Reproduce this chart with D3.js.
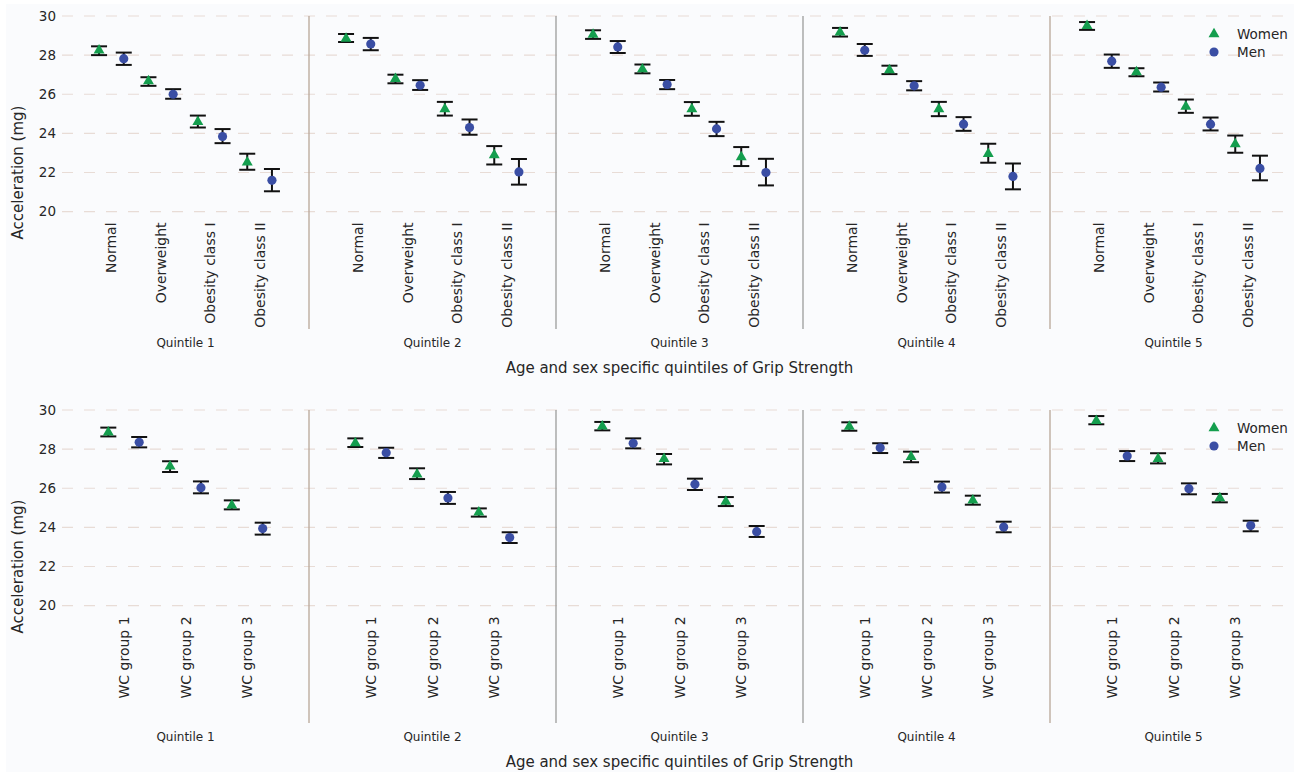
<!DOCTYPE html>
<html>
<head>
<meta charset="utf-8">
<script src="https://cdn.jsdelivr.net/npm/d3@7"></script>
<style>
  body { margin: 0; background: #ffffff; }
  svg { display: block; font-family: "DejaVu Sans", sans-serif; }
</style>
</head>
<body>
<svg id="chart"></svg>
<script>
const quintiles = ["Quintile 1", "Quintile 2", "Quintile 3", "Quintile 4", "Quintile 5"]
const bmiGroups = ["Normal", "Overweight", "Obesity class I", "Obesity class II"]
const wcGroups = ["WC group 1", "WC group 2", "WC group 3"]
const yTicks = [20, 22, 24, 26, 28, 30]
const sexes = ["Women", "Men"]

// [mean, lower, upper] per group, one row per quintile
const bmiWomen = [
  [[28.25, 28.0, 28.45], [26.67, 26.43, 26.87], [24.59, 24.3, 24.91], [22.52, 22.14, 22.96]],
  [[28.84, 28.67, 29.08], [26.79, 26.56, 27.0], [25.24, 24.91, 25.61], [22.89, 22.41, 23.35]],
  [[29.05, 28.83, 29.27], [27.28, 27.07, 27.52], [25.24, 24.9, 25.6], [22.79, 22.33, 23.3]],
  [[29.17, 28.95, 29.39], [27.24, 27.03, 27.46], [25.24, 24.88, 25.61], [22.96, 22.5, 23.47]],
  [[29.5, 29.29, 29.69], [27.13, 26.92, 27.33], [25.37, 25.05, 25.73], [23.45, 23.01, 23.89]]
]
const bmiMen = [
  [[27.82, 27.5, 28.13], [26.0, 25.77, 26.26], [23.84, 23.5, 24.22], [21.6, 21.04, 22.18]],
  [[28.57, 28.25, 28.88], [26.46, 26.22, 26.72], [24.3, 23.93, 24.71], [22.03, 21.38, 22.69]],
  [[28.42, 28.11, 28.72], [26.5, 26.26, 26.73], [24.23, 23.86, 24.59], [22.0, 21.34, 22.7]],
  [[28.25, 27.96, 28.57], [26.43, 26.2, 26.67], [24.47, 24.13, 24.83], [21.8, 21.14, 22.46]],
  [[27.69, 27.35, 28.03], [26.36, 26.14, 26.6], [24.47, 24.15, 24.81], [22.21, 21.6, 22.86]]
]
const wcWomen = [
  [[28.86, 28.65, 29.1], [27.12, 26.83, 27.38], [25.13, 24.92, 25.38]],
  [[28.31, 28.11, 28.55], [26.71, 26.47, 27.02], [24.77, 24.55, 24.97]],
  [[29.17, 28.96, 29.39], [27.5, 27.22, 27.75], [25.32, 25.09, 25.55]],
  [[29.15, 28.94, 29.37], [27.61, 27.33, 27.87], [25.38, 25.16, 25.62]],
  [[29.45, 29.27, 29.69], [27.5, 27.27, 27.79], [25.5, 25.28, 25.71]]
]
const wcMen = [
  [[28.35, 28.09, 28.62], [26.03, 25.74, 26.35], [23.94, 23.63, 24.24]],
  [[27.82, 27.55, 28.07], [25.5, 25.2, 25.81], [23.48, 23.2, 23.75]],
  [[28.3, 28.04, 28.55], [26.2, 25.91, 26.49], [23.78, 23.51, 24.07]],
  [[28.07, 27.8, 28.3], [26.06, 25.78, 26.34], [24.02, 23.75, 24.29]],
  [[27.65, 27.39, 27.9], [25.98, 25.69, 26.25], [24.09, 23.8, 24.34]]
]

const w = 1294
const h = 772
const left = 62
const right = 1297
const green = "#149e4e"
const blue = "#3a4ea4"
const textColor = "#262626"

const svg = d3.select("#chart")
  .attr("width", w)
  .attr("height", h)

svg.append("rect")
  .attr("x", 6).attr("y", 4)
  .attr("width", w - 6).attr("height", h - 4)
  .attr("fill", "#fafbfd")

const panelScale = d3.scaleBand()
  .domain(quintiles)
  .range([left, right])

function drawRow(top, bottom, groups, women, men) {
  const g = svg.append("g")
  const y = d3.scaleLinear().domain([14, 30]).range([bottom, top])

  // dashed grid
  g.selectAll(".grid")
    .data(yTicks)
    .enter()
    .append("line")
    .attr("x1", left)
    .attr("x2", w)
    .attr("y1", d => y(d))
    .attr("y2", d => y(d))
    .attr("stroke", "#e8dcd6")
    .attr("stroke-width", 1.2)
    .attr("stroke-dasharray", "11,11")

  // panel separators
  g.selectAll(".sep")
    .data(quintiles.slice(1))
    .enter()
    .append("line")
    .attr("x1", d => panelScale(d))
    .attr("x2", d => panelScale(d))
    .attr("y1", top)
    .attr("y2", bottom)
    .attr("stroke", (d, i) => (i === 0 || i === 3) ? "#b8a698" : "#9c9c9c")
    .attr("stroke-width", 1.3)

  const yAxis = d3.axisLeft(y).tickValues(yTicks).tickSize(0).tickPadding(6)
  const ya = g.append("g")
    .attr("transform", `translate(${left}, 0)`)
    .call(yAxis)
  ya.select(".domain").remove()
  ya.selectAll("text")
    .attr("font-size", 13.5)
    .attr("fill", textColor)
    .attr("font-family", "DejaVu Sans")

  g.append("text")
    .attr("transform", `translate(23, ${(top + bottom) / 2}) rotate(-90)`)
    .attr("text-anchor", "middle")
    .attr("font-size", 15)
    .attr("fill", textColor)
    .text("Acceleration (mg)")

  quintiles.forEach((q, qi) => {
    const x = d3.scalePoint()
      .domain(groups)
      .range([panelScale(q), panelScale(q) + panelScale.bandwidth()])
      .padding(1)
    const off = x.step() / 4

    const pts = []
    groups.forEach((grp, gi) => {
      pts.push({ sex: "Women", cx: x(grp) - off, v: women[qi][gi] })
      pts.push({ sex: "Men", cx: x(grp) + off, v: men[qi][gi] })
    })

    const p = g.append("g")

    // error bars
    const eb = p.selectAll(".eb")
      .data(pts)
      .enter()
      .append("g")
    eb.append("line")
      .attr("x1", d => d.cx).attr("x2", d => d.cx)
      .attr("y1", d => y(d.v[1])).attr("y2", d => y(d.v[2]))
      .attr("stroke", "#111").attr("stroke-width", 2)
    eb.append("line")
      .attr("x1", d => d.cx - 8).attr("x2", d => d.cx + 8)
      .attr("y1", d => y(d.v[1])).attr("y2", d => y(d.v[1]))
      .attr("stroke", "#111").attr("stroke-width", 2)
    eb.append("line")
      .attr("x1", d => d.cx - 8).attr("x2", d => d.cx + 8)
      .attr("y1", d => y(d.v[2])).attr("y2", d => y(d.v[2]))
      .attr("stroke", "#111").attr("stroke-width", 2)

    p.selectAll(".mk")
      .data(pts)
      .enter()
      .append("path")
      .attr("transform", d => `translate(${d.cx}, ${y(d.v[0])})`)
      .attr("d", d => d.sex === "Women"
        ? d3.symbol().type(d3.symbolTriangle).size(52)()
        : d3.symbol().type(d3.symbolCircle).size(66)())
      .attr("fill", d => d.sex === "Women" ? green : blue)

    // category labels (rotated)
    p.selectAll(".cat")
      .data(groups)
      .enter()
      .append("text")
      .attr("transform", d => `translate(${x(d) + 5}, ${y(19.5) + 1}) rotate(-90)`)
      .attr("text-anchor", "end")
      .attr("font-size", 14)
      .attr("fill", textColor)
      .text(d => d)

    p.append("text")
      .attr("x", panelScale(q) + panelScale.bandwidth() / 2)
      .attr("y", bottom + 18)
      .attr("text-anchor", "middle")
      .attr("font-size", 12)
      .attr("fill", textColor)
      .text(q)
  })

  g.append("text")
    .attr("x", (left + right) / 2)
    .attr("y", bottom + 44)
    .attr("text-anchor", "middle")
    .attr("font-size", 15)
    .attr("fill", textColor)
    .text("Age and sex specific quintiles of Grip Strength")

  // legend
  const lg = g.append("g")
    .attr("transform", `translate(1214, ${top + 18})`)
  sexes.forEach((s, i) => {
    lg.append("path")
      .attr("transform", `translate(0, ${i * 18})`)
      .attr("d", s === "Women"
        ? d3.symbol().type(d3.symbolTriangle).size(52)()
        : d3.symbol().type(d3.symbolCircle).size(66)())
      .attr("fill", s === "Women" ? green : blue)
    lg.append("text")
      .attr("x", 23)
      .attr("y", i * 18 + 5)
      .attr("font-size", 13.5)
      .attr("fill", textColor)
      .text(s)
  })
}

drawRow(16, 329, bmiGroups, bmiWomen, bmiMen)
drawRow(410, 723, wcGroups, wcWomen, wcMen)
</script>
</body>
</html>
